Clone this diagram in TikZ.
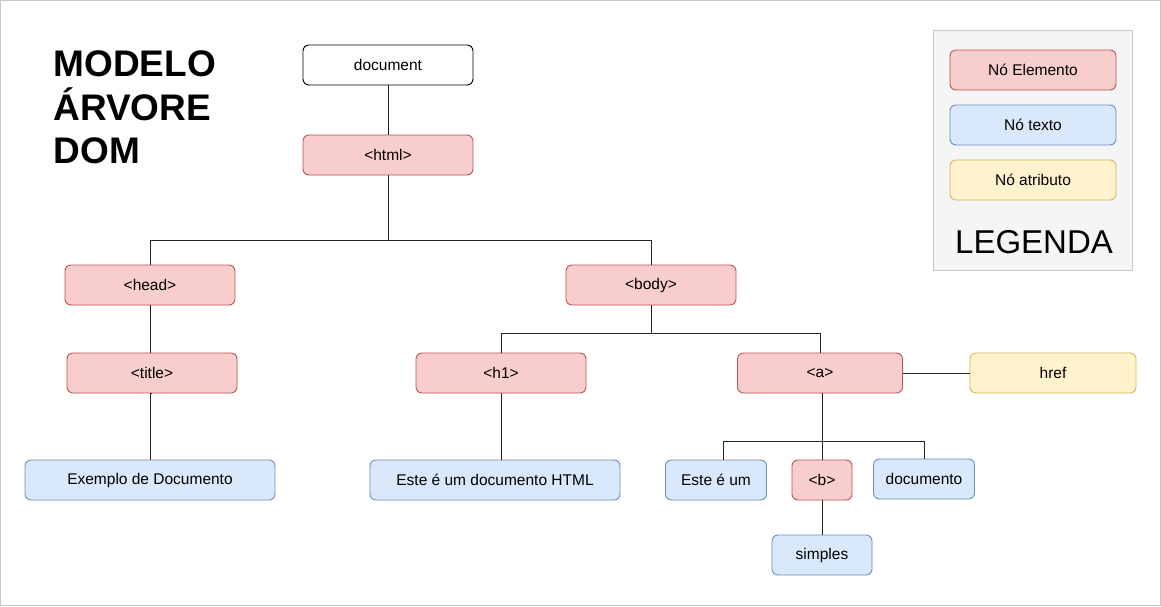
\documentclass[tikz,border=0pt]{standalone}
\usepackage{fontspec}
\setmainfont{Liberation Sans}
\usepackage{xcolor}
\usepackage{tikz}
\usetikzlibrary{positioning, calc}

\definecolor{elemfill}{HTML}{F8CECC}
\definecolor{elemline}{HTML}{B85450}
\definecolor{txtfill}{HTML}{DAE8FC}
\definecolor{txtline}{HTML}{6C8EBF}
\definecolor{attrfill}{HTML}{FFF2CC}
\definecolor{attrline}{HTML}{D6B656}
\definecolor{legfill}{HTML}{F5F5F5}
\definecolor{legline}{HTML}{C8C8C8}

\tikzset{
  box/.style={rectangle, rounded corners=6pt, minimum height=40pt, inner sep=0pt,
    line width=0.9pt, font=\fontsize{15.5}{18}\selectfont},
  elem/.style={box, fill=elemfill, draw=elemline, minimum width=170pt},
  txt/.style={box, fill=txtfill, draw=txtline, minimum width=250pt},
  attr/.style={box, fill=attrfill, draw=attrline, minimum width=166pt},
  edge/.style={draw=black!85, line width=1pt}
}

\begin{document}
\begin{tikzpicture}[x=1pt, y=-1pt]

      % frame
      \draw[legline, fill=white] (0.5,0.5) rectangle (1160.5,605.5);
      \useasboundingbox (0,0) rectangle (1161,606);

      % title
      \node[anchor=base west, font=\fontsize{37}{44}\selectfont\bfseries] (t1) at (50,76) {MODELO};
      \node[anchor=base west, font=\fontsize{37}{44}\selectfont\bfseries] (t2) at (50,120) {ÁRVORE};
      \node[anchor=base west, font=\fontsize{37}{44}\selectfont\bfseries] (t3) at (50,163) {DOM};

      % tree
      \node[box, draw=black, fill=white, minimum width=170pt] (doc) at (388,65) {document};
      \node[elem] (html) at (388,155) {<html>};
      \node[elem] (head) at (150,285) {<head>};
      \node[elem] (body) at (651,285) {<body>};
      \node[elem] (title) at (152,373) {<title>};
      \node[elem] (h1) at (501,373) {<h1>};
      \node[elem, minimum width=165pt] (a) at (820,373) {<a>};
      \node[attr] (href) at (1053,373) {href};
      \node[txt] (exdoc) at (150,480) {Exemplo de Documento};
      \node[txt] (h1txt) at (495,480) {Este é um documento HTML};
      \node[txt, minimum width=101pt] (este) at (716,480) {Este é um};
      \node[elem, minimum width=60pt] (b) at (822,480) {<b>};
      \node[txt, minimum width=101pt] (docu) at (924,479) {documento};
      \node[txt, minimum width=100pt] (simp) at (822,555) {simples};

      \coordinate (j1) at (388,240);
      \coordinate (j2) at (651,333);
      \coordinate (j3) at (822,441);

      \draw[edge] (doc.south) -- (html.north);
      \draw[edge] (html.south) -- (j1) -| (head.north);
      \draw[edge] (j1) -| (body.north);
      \draw[edge] (head.south) -- (head.south |- title.north);
      \draw[edge] (title.south) -- (title.south -| exdoc.north) -- (exdoc.north);
      \draw[edge] (body.south) -- (j2) -| (h1.north);
      \draw[edge] (j2) -| (a.north);
      \draw[edge] (h1.south) -- (h1.south |- h1txt.north);
      \draw[edge] (a.east) -- (href.west);
      \draw[edge] (a.south -| j3) -- (b.north);
      \draw[edge] (j3) -| ($(este.north)+(7,0)$);
      \draw[edge] (j3) -| (docu.north);
      \draw[edge] (b.south) -- (simp.north);

      % legend
      \node[rectangle, fill=legfill, draw=legline, line width=0.9pt, minimum width=199pt, minimum height=240pt] (leg) at (1033,150.5) {};
      \node[elem, minimum width=166pt] (lelem) at (1033,70) {Nó Elemento};
      \node[txt, minimum width=166pt] (ltxt) at (1033,125) {Nó texto};
      \node[attr] (lattr) at (1033,180) {Nó atributo};
      \node[anchor=base, font=\fontsize{33}{40}\selectfont] (legtitle) at (1034,253) {LEGENDA};
    \end{tikzpicture}
\end{document}
